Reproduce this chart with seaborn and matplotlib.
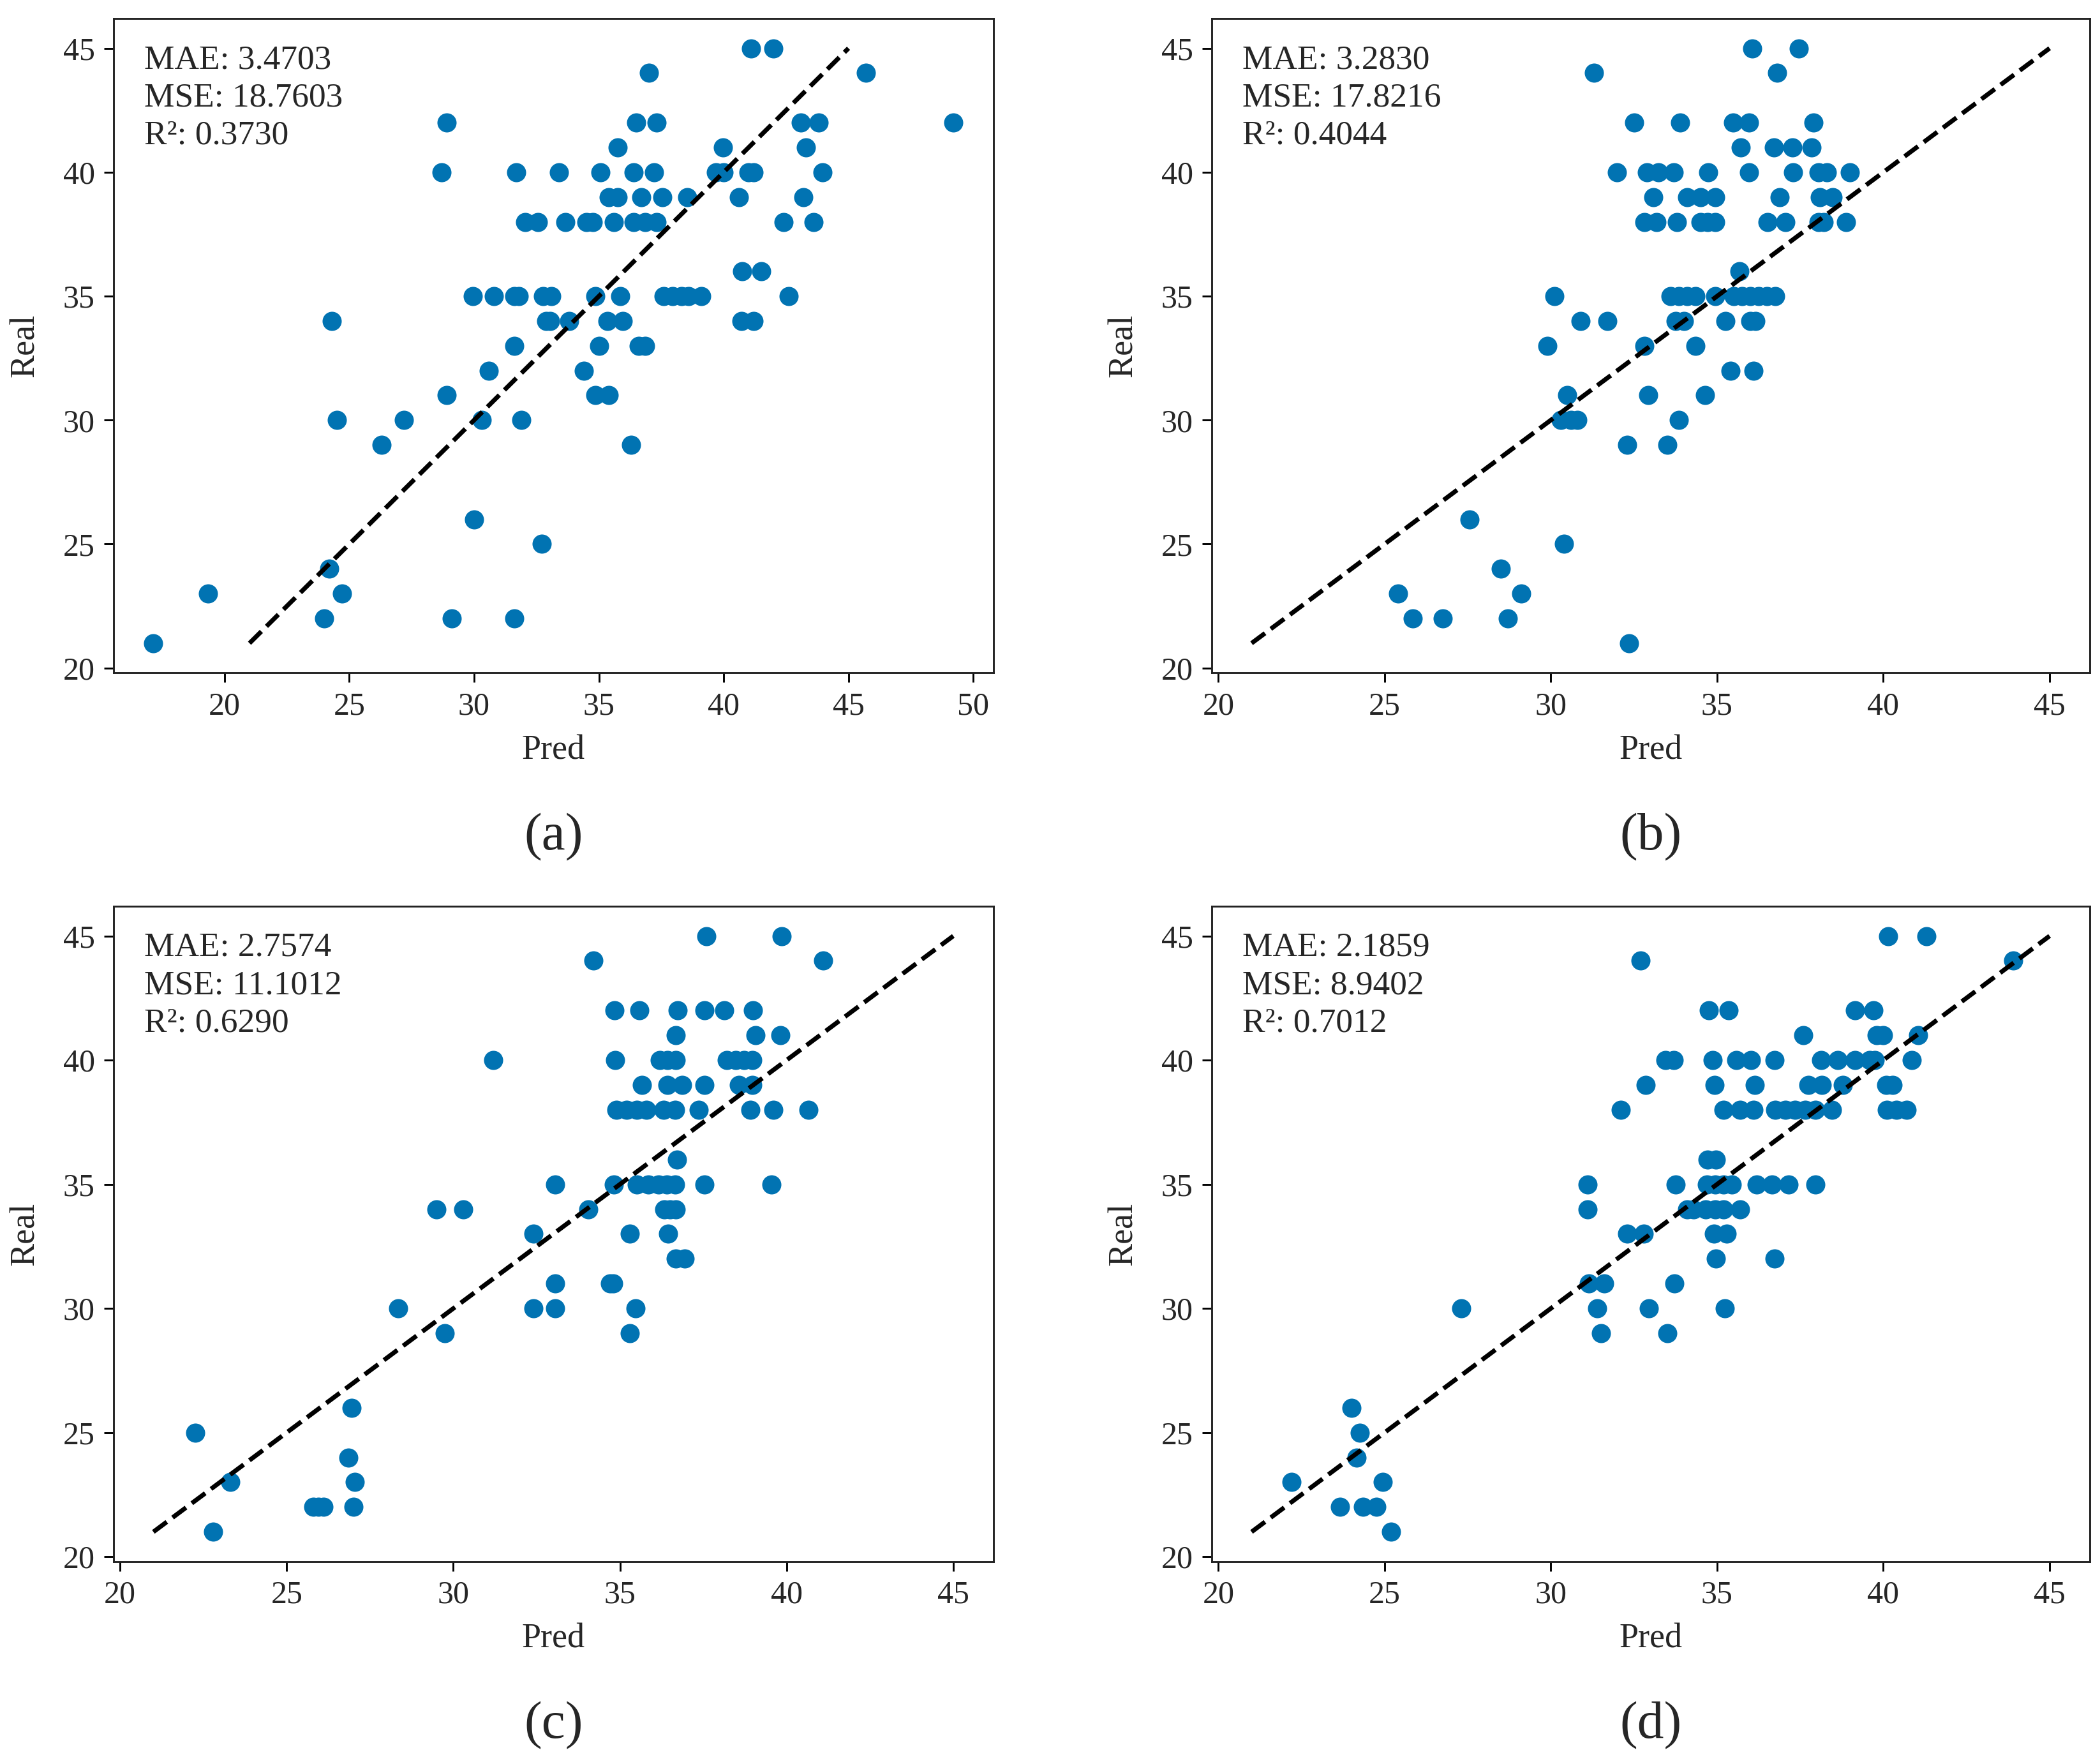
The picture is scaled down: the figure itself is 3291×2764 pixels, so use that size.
import matplotlib
matplotlib.use("Agg")
import matplotlib.pyplot as plt
import seaborn as sns

# panel (a)
pred_a = [17.15,
          24.0, 29.1, 31.6,
          19.35, 24.7,
          24.2,
          32.7,
          30.0,
          26.3, 36.3,
          24.5, 27.2, 30.3, 31.9,
          28.9, 34.85, 35.4,
          30.6, 34.4,
          31.6, 35.0, 36.6, 36.85,
          24.3, 32.9, 33.05, 33.8, 35.35, 35.95, 40.7, 41.2,
          29.95, 30.8, 31.6, 31.8, 32.75, 33.1, 34.85, 35.85, 37.6, 37.95, 38.3, 38.6, 39.1, 42.6,
          40.75, 41.5,
          32.05, 32.55, 33.65, 34.5, 34.75, 35.6, 36.4, 36.85, 37.3, 42.4, 43.6,
          35.4, 35.75, 36.7, 37.55, 38.55, 40.6, 43.2,
          28.7, 31.7, 33.4, 35.05, 36.4, 37.2, 39.7, 40.0, 41.0, 41.2, 43.95,
          35.75, 39.97, 43.3,
          28.9, 36.5, 37.3, 43.1, 43.8, 49.2,
          37.0, 45.7,
          41.1, 42.0]
real_a = [21,
          22, 22, 22,
          23, 23,
          24,
          25,
          26,
          29, 29,
          30, 30, 30, 30,
          31, 31, 31,
          32, 32,
          33, 33, 33, 33,
          34, 34, 34, 34, 34, 34, 34, 34,
          35, 35, 35, 35, 35, 35, 35, 35, 35, 35, 35, 35, 35, 35,
          36, 36,
          38, 38, 38, 38, 38, 38, 38, 38, 38, 38, 38,
          39, 39, 39, 39, 39, 39, 39,
          40, 40, 40, 40, 40, 40, 40, 40, 40, 40, 40,
          41, 41, 41,
          42, 42, 42, 42, 42, 42,
          44, 44,
          45, 45]

# panel (b)
pred_b = [32.35,
          25.85, 26.75, 28.7,
          25.4, 29.1,
          28.5,
          30.4,
          27.55,
          32.3, 33.5,
          30.3, 30.6, 30.8, 33.85,
          30.5, 32.92, 34.64,
          35.4, 36.1,
          29.9, 32.82, 34.34,
          30.9, 31.7, 33.75, 34.0, 35.25, 36.0, 36.15,
          30.1, 33.6, 33.85, 34.1, 34.35, 34.95, 35.5, 35.75, 36.0, 36.25, 36.5, 36.75,
          35.68,
          32.82, 33.17, 33.8, 34.5, 34.72, 34.94, 36.52, 37.06, 38.05, 38.2, 38.88,
          33.08, 34.1, 34.5, 34.95, 36.89, 38.09, 38.48,
          31.99, 32.89, 33.24, 33.7, 34.73, 35.97, 37.29, 38.05, 38.3, 38.99,
          35.71, 36.71, 37.26, 37.85,
          32.5, 33.88, 35.49, 35.97, 37.9,
          31.3, 36.8,
          36.05, 37.45]
real_b = [21,
          22, 22, 22,
          23, 23,
          24,
          25,
          26,
          29, 29,
          30, 30, 30, 30,
          31, 31, 31,
          32, 32,
          33, 33, 33,
          34, 34, 34, 34, 34, 34, 34,
          35, 35, 35, 35, 35, 35, 35, 35, 35, 35, 35, 35,
          36,
          38, 38, 38, 38, 38, 38, 38, 38, 38, 38, 38,
          39, 39, 39, 39, 39, 39, 39,
          40, 40, 40, 40, 40, 40, 40, 40, 40, 40,
          41, 41, 41, 41,
          42, 42, 42, 42, 42,
          44, 44,
          45, 45]

# panel (c)
pred_c = [22.8,
          25.8, 25.95, 26.1, 27.0,
          23.3, 27.05,
          26.85,
          22.25,
          26.95,
          29.75, 35.3,
          28.35, 32.4, 33.05, 35.46,
          33.05, 34.7, 34.8,
          36.68, 36.94,
          32.4, 35.3, 36.44,
          29.5, 30.3, 34.05, 36.33, 36.5, 36.68,
          33.05, 34.82, 35.5, 35.85, 36.15, 36.4, 36.65, 37.53, 39.55,
          36.71,
          34.9, 35.2, 35.5, 35.8, 36.3, 36.65, 37.37, 38.91, 39.6, 40.66,
          35.66, 36.43, 36.87, 37.53, 38.56, 38.97,
          31.2, 34.85, 36.2, 36.43, 36.68, 38.21, 38.47, 38.72, 38.97,
          36.68, 39.07, 39.82,
          34.84, 35.59, 36.73, 37.54, 38.12, 38.98,
          34.2, 41.1,
          37.6, 39.85]
real_c = [21,
          22, 22, 22, 22,
          23, 23,
          24,
          25,
          26,
          29, 29,
          30, 30, 30, 30,
          31, 31, 31,
          32, 32,
          33, 33, 33,
          34, 34, 34, 34, 34, 34,
          35, 35, 35, 35, 35, 35, 35, 35, 35,
          36,
          38, 38, 38, 38, 38, 38, 38, 38, 38, 38,
          39, 39, 39, 39, 39, 39,
          40, 40, 40, 40, 40, 40, 40, 40, 40,
          41, 41, 41,
          42, 42, 42, 42, 42, 42,
          44, 44,
          45, 45]

# panel (d)
pred_d = [25.2,
          23.65, 24.35, 24.75,
          22.2, 24.95,
          24.15,
          24.25,
          24.0,
          31.5, 33.5,
          27.3, 31.4, 32.95, 35.24,
          31.15, 31.6, 33.71,
          34.96, 36.72,
          32.3, 32.8, 34.9, 35.28,
          31.1, 34.1, 34.3, 34.65, 34.95, 35.2, 35.7,
          31.1, 33.75, 34.7, 34.95, 35.2, 35.45, 36.2, 36.65, 37.15, 37.95,
          34.71, 34.96,
          32.1, 35.2, 35.7, 36.1, 36.75, 37.05, 37.35, 37.65, 37.95, 38.45, 40.1, 40.4, 40.7,
          32.85, 34.92, 36.14, 37.74, 38.15, 38.79, 40.09, 40.28,
          33.45, 33.69, 34.87, 35.57, 36.02, 36.72, 38.12, 38.63, 39.15, 39.58, 39.75, 40.86,
          37.6, 39.8, 40.0, 41.05,
          34.75, 35.35, 39.15, 39.7,
          32.7, 43.9,
          40.15, 41.3]
real_d = [21,
          22, 22, 22,
          23, 23,
          24,
          25,
          26,
          29, 29,
          30, 30, 30, 30,
          31, 31, 31,
          32, 32,
          33, 33, 33, 33,
          34, 34, 34, 34, 34, 34, 34,
          35, 35, 35, 35, 35, 35, 35, 35, 35, 35,
          36, 36,
          38, 38, 38, 38, 38, 38, 38, 38, 38, 38, 38, 38, 38,
          39, 39, 39, 39, 39, 39, 39, 39,
          40, 40, 40, 40, 40, 40, 40, 40, 40, 40, 40, 40,
          41, 41, 41, 41,
          42, 42, 42, 42,
          44, 44,
          45, 45]

metrics = [
    ("3.4703", "18.7603", "0.3730"),
    ("3.2830", "17.8216", "0.4044"),
    ("2.7574", "11.1012", "0.6290"),
    ("2.1859", "8.9402", "0.7012"),
]
panel_labels = ["(a)", "(b)", "(c)", "(d)"]
ref_line = [21, 45]

sns.set_style("ticks")
plt.rcParams["font.family"] = ["Liberation Serif", "DejaVu Serif"]

point_color = sns.color_palette("colorblind")[0]

fig = plt.figure(figsize=(3291 / 300, 2764 / 300), dpi=300)
rects = [
    [0.054, 0.6185, 0.419, 0.3710],
    [0.577, 0.6185, 0.418, 0.3710],
    [0.054, 0.1147, 0.419, 0.3716],
    [0.577, 0.1147, 0.418, 0.3716],
]
panels = [(pred_a, real_a), (pred_b, real_b), (pred_c, real_c), (pred_d, real_d)]

for rect, (pred, real), (mae, mse, r2), lab in zip(rects, panels, metrics, panel_labels):
    assert len(pred) == len(real)
    ax = fig.add_axes(rect)
    sns.scatterplot(x=pred, y=real, ax=ax, color=point_color, s=52, linewidth=0, zorder=3)
    sns.lineplot(x=ref_line, y=ref_line, ax=ax, color="black", linestyle="--", lw=1.7, zorder=4)
    ax.set_yticks([20, 25, 30, 35, 40, 45])
    ax.set_xlabel("Pred", fontsize=13, labelpad=5)
    ax.set_ylabel("Real", fontsize=13, labelpad=8)
    ax.tick_params(labelsize=12, width=0.7, length=3.5, color="black")
    for sp in ax.spines.values():
        sp.set_linewidth(0.7)
        sp.set_color("#222222")
    ax.text(0.035, 0.96, f"MAE: {mae}\nMSE: {mse}\nR²: {r2}",
            transform=ax.transAxes, ha="left", va="top", fontsize=12.8, linespacing=1.3)
    fig.text(rect[0] + rect[2] / 2, rect[1] - 0.093, lab, ha="center", va="center", fontsize=20)

fig.savefig("out.png", dpi=300, facecolor="white")
